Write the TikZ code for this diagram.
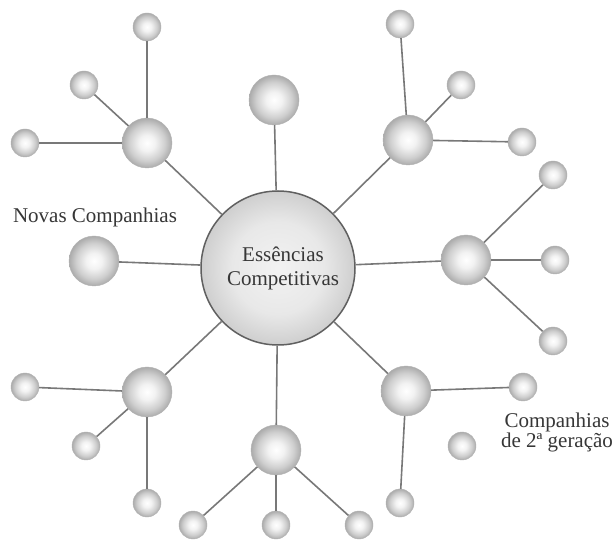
\documentclass[tikz,border=0pt]{standalone}
\usepackage{fontspec}
\setmainfont{Liberation Serif}

% soft grey spheres: bright centre, darker rim
\pgfdeclareradialshading{sphere}{\pgfpoint{0bp}{0bp}}{color(0bp)=(white); color(8bp)=(black!5); color(18bp)=(black!19); color(25bp)=(black!33); color(50bp)=(black!33)}
% large central disc
\pgfdeclareradialshading{core}{\pgfpoint{0bp}{0bp}}{color(0bp)=(black!5); color(15bp)=(black!9); color(25bp)=(black!19); color(50bp)=(black!19)}

\definecolor{linkgrey}{RGB}{120,120,120}
\definecolor{rimgrey}{RGB}{96,96,96}
\definecolor{inkgrey}{RGB}{55,55,55}

\tikzset{
  ball/.style={circle, inner sep=0pt, shading=sphere, draw=black!30, line width=0.4pt},
  hub/.style={ball, minimum size=50pt},
  leaf/.style={ball, minimum size=28pt},
  core/.style={circle, inner sep=0pt, minimum size=154pt, shading=core,
               draw=rimgrey, line width=1.5pt, text=inkgrey, align=center,
               font=\fontsize{21}{24}\selectfont},
  link/.style={draw=linkgrey, line width=1.6pt},
  caption/.style={text=inkgrey, font=\fontsize{21}{19.5}\selectfont, inner sep=0pt}
}

\begin{document}
\begin{tikzpicture}[x=1pt, y=-1pt]
  \fill[white] (0,0) rectangle (614,540);
  \useasboundingbox (0,0) rectangle (614,540);

  % centre
  \node[core] (c) at (278,268) {\hspace*{10pt}Essências\\\hspace*{10pt}Competitivas};

  % first ring
  \node[hub] (top) at (274,100) {};
  \node[hub] (lft) at (94,261) {};
  \node[hub] (ul)  at (147,143) {};
  \node[hub] (ur)  at (408,140) {};
  \node[hub] (rt)  at (466,260) {};
  \node[hub] (ll)  at (147,392) {};
  \node[hub] (bt)  at (276,450) {};
  \node[hub] (lr)  at (406,391) {};

  % second generation
  \node[leaf] (ul1) at (147,27) {};
  \node[leaf] (ul2) at (84,85) {};
  \node[leaf] (ul3) at (25,143) {};
  \node[leaf] (ur1) at (400,24) {};
  \node[leaf] (ur2) at (461,85) {};
  \node[leaf] (ur3) at (522,142) {};
  \node[leaf] (rt1) at (553,175) {};
  \node[leaf] (rt2) at (555,260) {};
  \node[leaf] (rt3) at (553,341) {};
  \node[leaf] (ll1) at (25,387) {};
  \node[leaf] (ll2) at (86,446) {};
  \node[leaf] (ll3) at (147,503) {};
  \node[leaf] (bt1) at (193,525) {};
  \node[leaf] (bt2) at (276,525) {};
  \node[leaf] (bt3) at (359,525) {};
  \node[leaf] (lr1) at (523,387) {};
  \node[leaf] (lr2) at (400,503) {};
  \node[leaf] (key) at (462,446) {};

  % links from the centre
  \foreach \n in {top,lft,ul,ur,rt,ll,bt,lr} \path[link] (c) -- (\n);

  % links to the second generation
  \foreach \a/\b in {ul/ul1,ul/ul2,ul/ul3,ur/ur1,ur/ur2,ur/ur3,rt/rt1,rt/rt2,rt/rt3,
                     ll/ll1,ll/ll2,ll/ll3,bt/bt1,bt/bt2,bt/bt3,lr/lr1,lr/lr2}
    \path[link] (\a) -- (\b);

  % captions
  \node[caption, anchor=base] (novas) at (95,223) {Novas Companhias};
  \node[caption, anchor=base] (seg1) at (557,428) {Companhias};
  \node[caption, anchor=base] (seg2) at (557,447) {de 2ª geração};
\end{tikzpicture}
\end{document}
